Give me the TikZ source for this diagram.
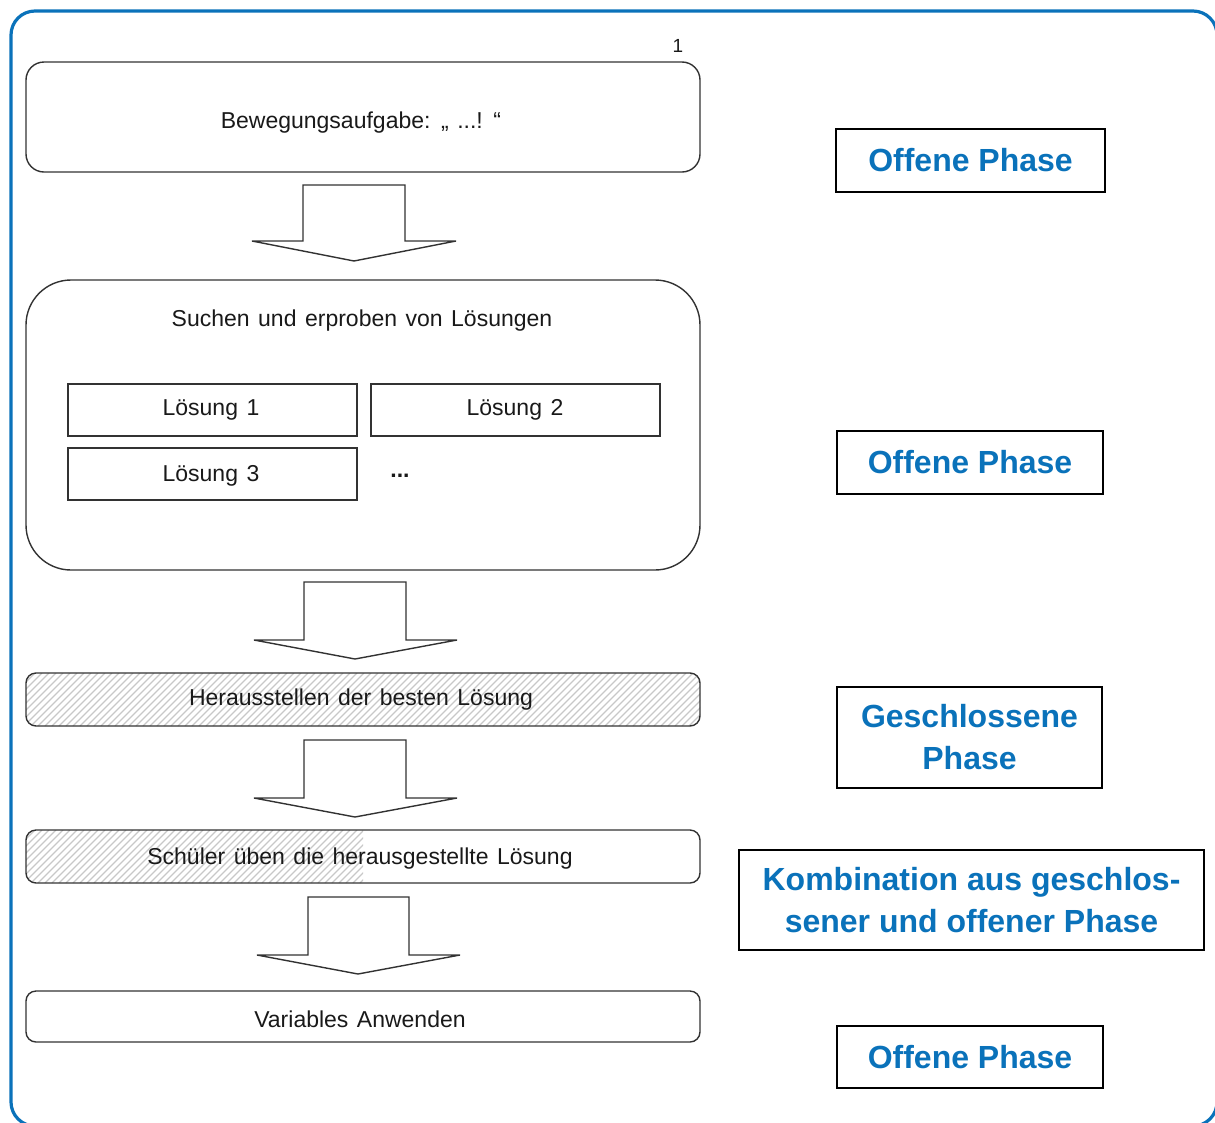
\documentclass[tikz,border=0pt]{standalone}
\usepackage{fontspec}
\setmainfont{Liberation Sans}
\definecolor{frameblue}{RGB}{10,114,186}
\definecolor{txtgray}{RGB}{25,25,25}
\definecolor{linegray}{RGB}{50,50,50}
\definecolor{hatchgray}{RGB}{200,200,200}
\newcommand{\widespaces}{\spaceskip=8.5pt plus 2pt\relax}
\begin{document}
\begin{tikzpicture}[x=1pt,y=-1pt,
  flowbox/.style={draw=linegray, line width=1.4pt, inner sep=0pt},
  flowtxt/.style={text=txtgray, font=\fontsize{23}{27}\selectfont, execute at begin node=\widespaces},
  phasebox/.style={draw=black, line width=1.7pt, inner sep=0pt, align=center,
    text=frameblue, font=\fontsize{32}{42}\selectfont\bfseries},
  blockarrow/.style={draw=linegray, line width=1.4pt, fill=white, line join=miter}]
\useasboundingbox (0,0) rectangle (1215,1122);
% outer frame
\draw[frameblue, line width=3.2pt, rounded corners=24pt] (11,11) rectangle (1217,1126);

% box 1
\node[flowbox, rounded corners=18pt, minimum width=674pt, minimum height=110pt] (b1) at (363,117) {};
\node[flowtxt] (t1) at (361,123) {Bewegungsaufgabe: „ ...! “};
\node[text=txtgray, font=\fontsize{19}{21}\selectfont] (n1) at (678,46) {1};

% box 2
\node[flowbox, rounded corners=45pt, minimum width=674pt, minimum height=290pt] (b2) at (363,425) {};
\node[flowtxt] (t2) at (362,321) {Suchen und erproben von Lösungen};
\node[flowbox, minimum width=289pt, minimum height=52pt] (l1) at (212.5,410) {};
\node[flowtxt] (tl1) at (211,410) {Lösung 1};
\node[flowbox, minimum width=289pt, minimum height=52pt] (l2) at (515.5,410) {};
\node[flowtxt] (tl2) at (515,410) {Lösung 2};
\node[flowbox, minimum width=289pt, minimum height=52pt] (l3) at (212.5,474) {};
\node[flowtxt] (tl3) at (211,476) {Lösung 3};
\node[flowtxt, font=\fontsize{23}{27}\selectfont\bfseries] (dots) at (400,476) {...};

% box 3 (hatched)
\begin{scope}
  \clip[rounded corners=10pt] (26,673) rectangle (700,726);
  \foreach \x in {-60,-53,...,700} {
    \draw[hatchgray, line width=1.2pt] (\x,726) -- (\x+53,673);
  }
\end{scope}
\node[flowbox, rounded corners=10pt, minimum width=674pt, minimum height=53pt] (b3) at (363,699.5) {};
\node[flowtxt] (t3) at (361,700) {Herausstellen der besten Lösung};

% box 4 (partly hatched)
\begin{scope}
  \clip[rounded corners=10pt] (26,830) rectangle (700,883);
  \clip (20,825) rectangle (363,888);
  \foreach \x in {-60,-53,...,400} {
    \draw[hatchgray, line width=1.2pt] (\x,883) -- (\x+53,830);
  }
\end{scope}
\node[flowbox, rounded corners=10pt, minimum width=674pt, minimum height=53pt] (b4) at (363,856.5) {};
\node[flowtxt] (t4) at (360,859) {Schüler üben die herausgestellte Lösung};

% box 5
\node[flowbox, rounded corners=10pt, minimum width=674pt, minimum height=51pt] (b5) at (363,1016.5) {};
\node[flowtxt] (t5) at (360,1019) {Variables Anwenden};

% block arrows
\draw[blockarrow] (303,185) -- (405,185) -- (405,241) -- (456,241) -- (354,261) -- (252,241) -- (303,241) -- cycle;
\draw[blockarrow] (304,582) -- (406,582) -- (406,640) -- (457,640) -- (355,659) -- (254,640) -- (304,640) -- cycle;
\draw[blockarrow] (304,740) -- (406,740) -- (406,798) -- (457,798) -- (355,817) -- (254,798) -- (304,798) -- cycle;
\draw[blockarrow] (308,897) -- (409,897) -- (409,955) -- (460,955) -- (358,974) -- (257,955) -- (308,955) -- cycle;

% phase boxes
\node[phasebox, minimum width=269pt, minimum height=63pt] (r1) at (970.5,160.5) {Offene Phase};
\node[phasebox, minimum width=266pt, minimum height=63pt] (r2) at (970,462.5) {Offene Phase};
\node[phasebox, minimum width=265pt, minimum height=101pt] (r3) at (969.5,737.5) {Geschlossene\\Phase};
\node[phasebox, minimum width=465pt, minimum height=100pt] (r4) at (971.5,900) {Kombination aus geschlos-\\sener und offener Phase};
\node[phasebox, minimum width=266pt, minimum height=62pt] (r5) at (970,1057) {Offene Phase};
\end{tikzpicture}
\end{document}
